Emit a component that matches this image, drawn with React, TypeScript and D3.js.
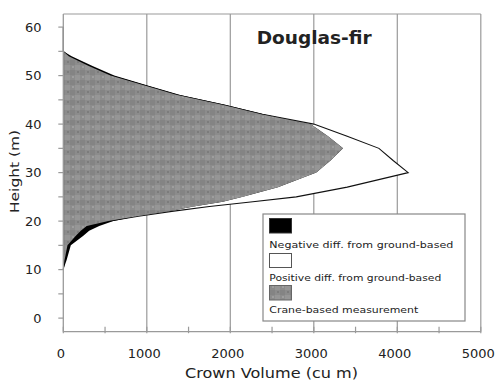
import React from "react";
import * as d3 from "d3";

const heights = [10, 12, 15, 17, 18, 19, 20, 21, 22, 23, 24, 25, 27, 30, 32.5, 35, 37.5, 40, 42, 44, 46, 48, 50, 52, 54, 55, 60];
const craneVolume = [0, 40, 90, 240, 310, 430, 600, 880, 1250, 1560, 1910, 2150, 2570, 3030, 3200, 3350, 3170, 2960, 2410, 1940, 1400, 1000, 610, 350, 100, 0, 0];
const groundVolume = [0, 15, 50, 150, 210, 280, 540, 900, 1300, 1750, 2270, 2790, 3400, 4130, 3950, 3780, 3400, 3000, 2385, 1905, 1365, 965, 565, 305, 65, 0, 0];

const xTicks = [0, 1000, 2000, 3000, 4000, 5000];
const xMinorTicks = [500, 1500, 2500, 3500, 4500];
const yTicks = [0, 10, 20, 30, 40, 50, 60];
const yMinorTicks = [0, 5, 10, 15, 20, 25, 30, 35, 40, 45, 50, 55, 60];
const legendLabels = ["Negative diff. from ground-based", "Positive diff. from ground-based", "Crane-based measurement"];

const W = 496;
const H = 381;

export default function App() {
  const x = d3.scaleLinear().domain([0, 5000]).range([63.3, 480.8]);
  const y = d3.scaleLinear().domain([-2.8, 62.7]).range([331.7, 14]);

  const rows = heights.map((h, i) => ({ h, c: craneVolume[i], g: groundVolume[i] }));

  const areaOf = (f: (d: any) => number) =>
    d3
      .area<any>()
      .y((d) => y(d.h))
      .x0(() => x(0))
      .x1((d) => x(f(d)))(rows) as string;

  const groundArea = areaOf((d) => d.g);
  const craneArea = areaOf((d) => d.c);
  const minArea = areaOf((d) => Math.min(d.c, d.g));
  const groundLine = d3
    .line<any>()
    .x((d) => x(d.g))
    .y((d) => y(d.h))(rows) as string;

  const axisColor = "#9a9a9a";
  const font = "DejaVu Sans, Verdana, sans-serif";

  const legendX = 263;
  const legendY = 214;

  return (
    <svg width={W} height={H} style={{ position: "absolute", left: 0, top: 0, background: "#fff" }}>
      <defs>
        <pattern id="mottle" width="10" height="10" patternUnits="userSpaceOnUse">
          <rect width="10" height="10" fill="#8c8c8c" />
          <rect x="0" y="0" width="5" height="5" fill="#848484" />
          <rect x="5" y="5" width="5" height="5" fill="#969696" />
          <rect x="2" y="6" width="2" height="2" fill="#9e9e9e" />
          <rect x="7" y="1" width="2" height="2" fill="#7c7c7c" />
        </pattern>
      </defs>

      {/* gridlines */}
      {xTicks.slice(1).map((t) => (
        <line key={"g" + t} x1={x(t)} x2={x(t)} y1={y(62.7)} y2={y(-2.8)} stroke={axisColor} strokeWidth={1.2} />
      ))}
      <line x1={x(0)} x2={x(5000)} y1={y(62.7)} y2={y(62.7)} stroke={axisColor} strokeWidth={1.2} />

      {/* profiles */}
      <path d={groundArea} fill="#fff" />
      <path d={groundLine} fill="none" stroke="#111" strokeWidth={1.1} />
      <path d={craneArea} fill="#000" />
      <path d={minArea} fill="url(#mottle)" />

      {/* axes */}
      <line x1={x(0)} x2={x(0)} y1={y(62.7)} y2={y(-2.8)} stroke={axisColor} strokeWidth={1.3} />
      <line x1={x(0)} x2={x(5000)} y1={y(-2.8)} y2={y(-2.8)} stroke={axisColor} strokeWidth={1.3} />
      {yMinorTicks.map((t) => (
        <line key={"yt" + t} x1={x(0) - 5} x2={x(0)} y1={y(t)} y2={y(t)} stroke={axisColor} strokeWidth={1.2} />
      ))}
      {xMinorTicks.concat(xTicks).map((t) => (
        <line key={"xt" + t} x1={x(t)} x2={x(t)} y1={y(-2.8) - 5} y2={y(-2.8) + 1.5} stroke={axisColor} strokeWidth={1.2} />
      ))}

      {yTicks.map((t) => (
        <text key={"yl" + t} x={41.5} y={y(t) + 4.7} textAnchor="end" fontFamily={font} fontSize={13} fill="#222">
          {t}
        </text>
      ))}
      {xTicks.map((t) => (
        <text key={"xl" + t} x={x(t) - 2.5} y={358} textAnchor="middle" fontFamily={font} fontSize={13} fill="#222">
          {t}
        </text>
      ))}

      <text x={271.5} y={378} textAnchor="middle" fontFamily={font} fontSize={14} fill="#222" textLength={173} lengthAdjust="spacingAndGlyphs">
        Crown Volume (cu m)
      </text>
      <text
        transform="translate(19,171.5) rotate(-90)"
        textAnchor="middle"
        fontFamily={font}
        fontSize={13}
        fill="#222"
        textLength={83}
        lengthAdjust="spacingAndGlyphs"
      >
        Height (m)
      </text>

      <text x={256.7} y={43.5} fontFamily={font} fontSize={18} fontWeight="bold" fill="#222" textLength={115} lengthAdjust="spacingAndGlyphs">
        Douglas-fir
      </text>

      {/* legend */}
      <rect x={legendX} y={legendY} width={202} height={107} fill="#fff" stroke="#888" strokeWidth={1.2} />
      <rect x={269.5} y={218.5} width={22} height={14.5} fill="#000" stroke="#333" />
      <rect x={269.5} y={253.5} width={22} height={14} fill="#fff" stroke="#555" />
      <rect x={269.5} y={285.5} width={22} height={14.5} fill="url(#mottle)" stroke="#666" />
      {legendLabels.map((l, i) => (
        <text
          key={l}
          x={269.3}
          y={[247.5, 281.3, 313.3][i]}
          fontFamily={font}
          fontSize={9.5}
          fill="#222"
          textLength={[184, 172, 149][i]}
          lengthAdjust="spacingAndGlyphs"
        >
          {l}
        </text>
      ))}
    </svg>
  );
}
